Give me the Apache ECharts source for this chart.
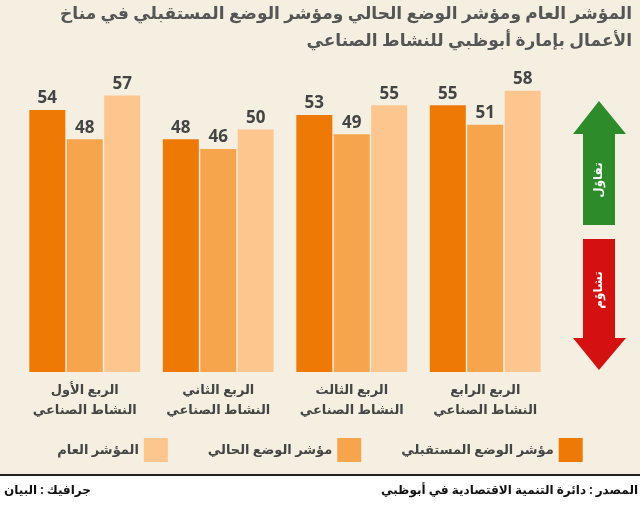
<!DOCTYPE html><html><head><meta charset="utf-8"><script src="https://cdn.jsdelivr.net/npm/echarts@6/dist/echarts.min.js"></script>
<style>body{margin:0;background:#fff}#c{width:640px;height:525px}</style></head><body><div id="c"></div><script>
const categories=['الربع الأول\nالنشاط الصناعي','الربع الثاني\nالنشاط الصناعي','الربع الثالث\nالنشاط الصناعي','الربع الرابع\nالنشاط الصناعي'];
const futureIdx=[54,48,53,55];
const currentIdx=[48,46,49,51];
const generalIdx=[57,50,55,58];
const names=['مؤشر الوضع المستقبلي','مؤشر الوضع الحالي','المؤشر العام'];
const colors=['#EE7A05','#F7A54C','#FDC68F'];
const F='"Noto Sans", "DejaVu Sans", sans-serif';
const mk=(n,d,c)=>({name:n,type:'bar',data:d,itemStyle:{color:c},barWidth:36,barGap:'4%',
 label:{show:true,position:'top',fontSize:17,fontWeight:'bold',color:'#444',fontFamily:F,distance:3}});
const ch=echarts.init(document.getElementById('c'));
ch.setOption({
 backgroundColor:'#fff',
 graphic:[
  {type:'rect',shape:{x:0,y:0,width:640,height:475},style:{fill:'#F4EFE0'},z:-10},
  {type:'line',shape:{x1:0,y1:475,x2:640,y2:475},style:{stroke:'#222',lineWidth:2}},
  {type:'text',right:8,top:6,style:{text:'المؤشر العام ومؤشر الوضع الحالي ومؤشر الوضع المستقبلي في مناخ',font:'bold 17px '+F,fill:'#555'}},
  {type:'text',right:8,top:33,style:{text:'الأعمال بإمارة أبوظبي للنشاط الصناعي',font:'bold 17px '+F,fill:'#555'}},
  {type:'polygon',shape:{points:[[599,101],[573,134],[583,134],[583,225],[615,225],[615,134],[626,134]]},style:{fill:'#2E8B2A'}},
  {type:'polygon',shape:{points:[[583,239],[615,239],[615,338],[626,338],[599,370],[573,338],[583,338]]},style:{fill:'#D51010'}},
  {type:'text',x:599,y:180,rotation:Math.PI/2,style:{text:'تفاؤل',font:'bold 12px '+F,fill:'#fff',align:'center',verticalAlign:'middle'}},
  {type:'text',x:599,y:290,rotation:Math.PI/2,style:{text:'تشاؤم',font:'bold 12px '+F,fill:'#fff',align:'center',verticalAlign:'middle'}},
  {type:'text',right:2,top:485,style:{text:'المصدر : دائرة التنمية الاقتصادية في أبوظبي',font:'bold 12px '+F,fill:'#111'}},
  {type:'text',left:4,top:485,style:{text:'جرافيك : البيان',font:'bold 12px '+F,fill:'#111'}}
 ],
 legend:{data:[names[2],names[1],names[0]],bottom:58,left:'center',align:'right',icon:'rect',itemWidth:24,itemHeight:24,itemGap:40,
  textStyle:{fontSize:13,fontWeight:'bold',color:'#444',fontFamily:F}},
 grid:{left:18,right:88,top:81,bottom:153},
 xAxis:{type:'category',data:categories,axisLine:{show:false},axisTick:{show:false},
  axisLabel:{interval:0,fontSize:13,fontWeight:'bold',color:'#444',fontFamily:F,lineHeight:20,margin:8}},
 yAxis:{type:'value',min:0,max:60,show:false,splitLine:{show:false}},
 series:[mk(names[0],futureIdx,colors[0]),mk(names[1],currentIdx,colors[1]),mk(names[2],generalIdx,colors[2])]
});
</script></body></html>
